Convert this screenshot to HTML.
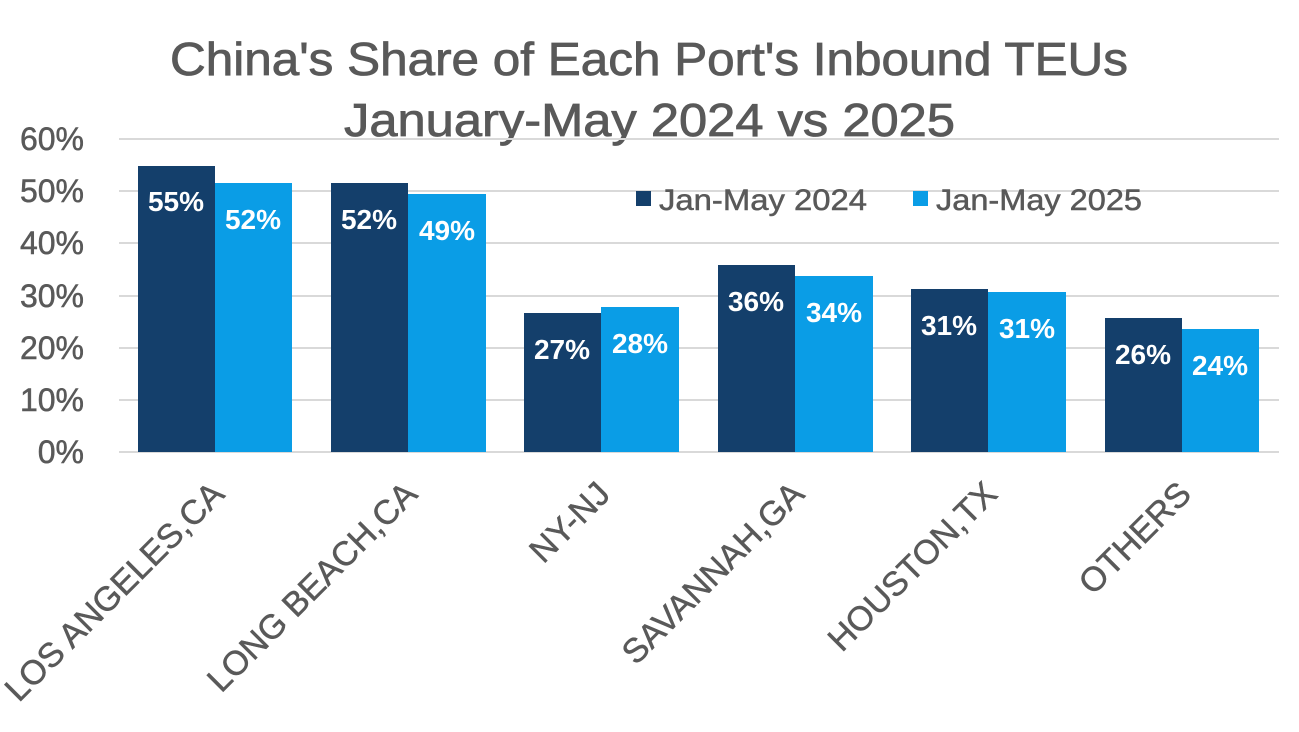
<!DOCTYPE html>
<html><head><meta charset="utf-8"><style>
html,body{margin:0;padding:0;background:#fff;}
svg{display:block;font-family:"Liberation Sans",Arial,sans-serif;}
</style></head><body>
<svg width="1299" height="732" viewBox="0 0 1299 732">
<g stroke="#595959" stroke-width="0.8">
<text x="170" y="75" font-size="46" fill="#595959" textLength="958" lengthAdjust="spacingAndGlyphs">China's Share of Each Port's Inbound TEUs</text>
<text x="344" y="136" font-size="46" fill="#595959" textLength="611" lengthAdjust="spacingAndGlyphs">January-May 2024 vs 2025</text>
</g>
<g stroke="#d9d9d9" stroke-width="2">
<line x1="119" x2="1279" y1="139" y2="139"/>
<line x1="119" x2="1279" y1="191" y2="191"/>
<line x1="119" x2="1279" y1="243" y2="243"/>
<line x1="119" x2="1279" y1="296" y2="296"/>
<line x1="119" x2="1279" y1="348" y2="348"/>
<line x1="119" x2="1279" y1="400" y2="400"/>
<line x1="119" x2="1279" y1="452" y2="452"/>
</g>
<g font-size="32" fill="#595959" text-anchor="end" stroke="#595959" stroke-width="0.5">
<text x="84" y="150">60%</text>
<text x="84" y="202">50%</text>
<text x="84" y="254">40%</text>
<text x="84" y="307">30%</text>
<text x="84" y="359">20%</text>
<text x="84" y="411">10%</text>
<text x="84" y="463">0%</text>
</g>
<g fill="#143f6b">
<rect x="138" y="166" width="77" height="286"/>
<rect x="331" y="183" width="77" height="269"/>
<rect x="524" y="313" width="77" height="139"/>
<rect x="718" y="265" width="77" height="187"/>
<rect x="911" y="289" width="77" height="163"/>
<rect x="1105" y="318" width="77" height="134"/>
</g>
<g fill="#0a9de6">
<rect x="215" y="183" width="77" height="269"/>
<rect x="408" y="194" width="78" height="258"/>
<rect x="601" y="307" width="78" height="145"/>
<rect x="795" y="276" width="78" height="176"/>
<rect x="988" y="292" width="78" height="160"/>
<rect x="1182" y="329" width="77" height="123"/>
</g>
<g font-size="28" font-weight="bold" fill="#fff" text-anchor="middle">
<text x="176" y="211">55%</text><text x="253" y="229">52%</text>
<text x="369" y="229">52%</text><text x="447" y="240">49%</text>
<text x="562" y="359">27%</text><text x="640" y="353">28%</text>
<text x="756" y="311">36%</text><text x="834" y="322">34%</text>
<text x="949" y="335">31%</text><text x="1027" y="338">31%</text>
<text x="1143" y="364">26%</text><text x="1220" y="375">24%</text>
</g>
<rect x="636" y="191" width="15" height="15" fill="#143f6b"/>
<text x="659" y="210" font-size="30" fill="#595959" stroke="#595959" stroke-width="0.5" textLength="208" lengthAdjust="spacingAndGlyphs">Jan-May 2024</text>
<rect x="913" y="191" width="15" height="15" fill="#0a9de6"/>
<text x="936" y="210" font-size="30" fill="#595959" stroke="#595959" stroke-width="0.5" textLength="206" lengthAdjust="spacingAndGlyphs">Jan-May 2025</text>
<g font-size="34" fill="#595959" text-anchor="end" stroke="#595959" stroke-width="0.5">
<text transform="translate(226,496) rotate(-45)">LOS ANGELES,CA</text>
<text transform="translate(419,496) rotate(-45)">LONG BEACH,CA</text>
<text transform="translate(612,496) rotate(-45)">NY-NJ</text>
<text transform="translate(806,496) rotate(-45)">SAVANNAH,GA</text>
<text transform="translate(999,496) rotate(-45)">HOUSTON,TX</text>
<text transform="translate(1193,496) rotate(-45)">OTHERS</text>
</g>
</svg>
</body></html>
